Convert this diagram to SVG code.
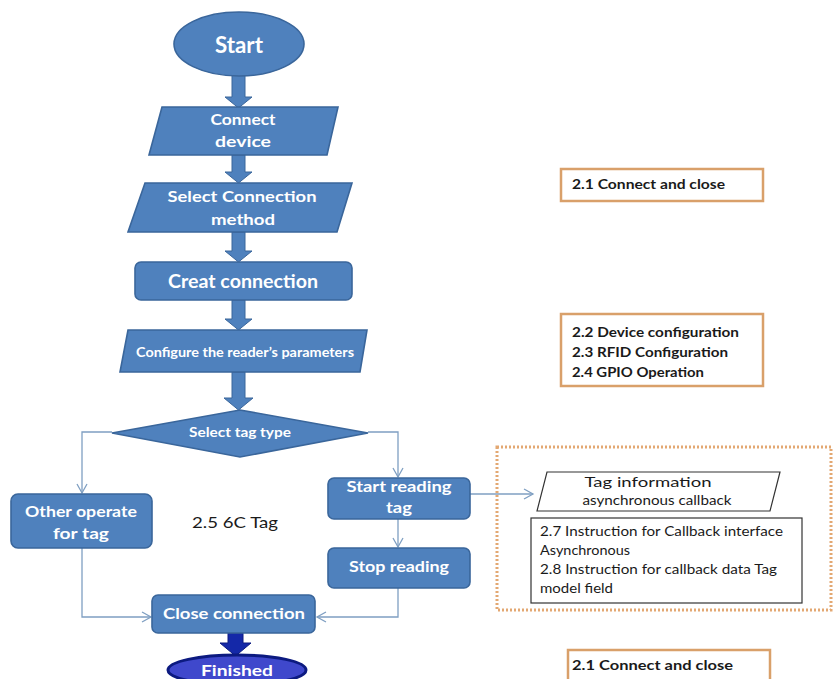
<svg xmlns="http://www.w3.org/2000/svg" width="833" height="679" viewBox="0 0 833 679">
<defs>
<style>
.node{fill:#4f81bd;stroke:#3a669b;stroke-width:1.6}
.wt{fill:#fff;font-family:"Lato","Liberation Sans",sans-serif;font-weight:bold;text-anchor:middle}
.blk{fill:#1a1a1a;font-family:"Lato","Liberation Sans",sans-serif}
.ref{fill:#fff;stroke:#d9a06a;stroke-width:2.5}
.con{fill:none;stroke:#7f9fc2;stroke-width:1.3}
.barrow{fill:#4f81bd;stroke:#3a669b;stroke-width:1}
</style>
<marker id="oa" markerWidth="12" markerHeight="12" refX="10" refY="6" orient="auto" markerUnits="userSpaceOnUse">
<path d="M1,1 L10,6 L1,11" fill="none" stroke="#7f9fc2" stroke-width="1.3"/>
</marker>
</defs>
<rect width="833" height="679" fill="#fff"/>

<g id="connectors">
<path class="barrow" d="M232,75 L245,75 L245,97 L252,97 L238.5,108 L225,97 L232,97 Z"/>
<path class="barrow" d="M232,155 L245,155 L245,172 L252,172 L238.5,183 L225,172 L232,172 Z"/>
<path class="barrow" d="M232,232 L245,232 L245,251 L252,251 L238.5,262 L225,251 L232,251 Z"/>
<path class="barrow" d="M232,300 L245,300 L245,319 L252,319 L238.5,330 L225,319 L232,319 Z"/>
<path class="barrow" d="M232,372 L245,372 L245,398 L253,398 L238.5,410 L224,398 L232,398 Z"/>
<path d="M228,633 L243,633 L243,643 L251,643 L235.5,656 L220,643 L228,643 Z" fill="#1428a8" stroke="#0c1a80" stroke-width="1"/>
<polyline class="con" points="112,432 82,432 82,493" marker-end="url(#oa)"/>
<polyline class="con" points="82,548 82,617 151,617" marker-end="url(#oa)"/>
<polyline class="con" points="368,432 398,432 398,477" marker-end="url(#oa)"/>
<polyline class="con" points="398,519 398,547" marker-end="url(#oa)"/>
<polyline class="con" points="398,588 398,617 317,617" marker-end="url(#oa)"/>
<polyline class="con" points="470,494 533,494" marker-end="url(#oa)"/>
</g>

<g id="start">
<ellipse class="node" cx="239" cy="44" rx="65" ry="32"/>
<text class="wt" x="239" y="53" font-size="22" textLength="48" lengthAdjust="spacingAndGlyphs">Start</text>
</g>

<g id="connect-device">
<polygon class="node" points="162,107 338,107 327,155 149,155"/>
<text class="wt" x="243" y="125" font-size="16" textLength="65" lengthAdjust="spacingAndGlyphs">Connect</text>
<text class="wt" x="243" y="147" font-size="16" textLength="56" lengthAdjust="spacingAndGlyphs">device</text>
</g>

<g id="select-connection">
<polygon class="node" points="145,183 352,183 337,232 128,232"/>
<text class="wt" x="242" y="202" font-size="16" textLength="149" lengthAdjust="spacingAndGlyphs">Select  Connection</text>
<text class="wt" x="243" y="225" font-size="16" textLength="64" lengthAdjust="spacingAndGlyphs">method</text>
</g>

<g id="creat-connection">
<rect class="node" x="135" y="262" width="217" height="38" rx="6"/>
<text class="wt" x="243" y="288" font-size="18" textLength="150" lengthAdjust="spacingAndGlyphs">Creat connection</text>
</g>

<g id="configure">
<polygon class="node" points="128,330 367,330 360,372 120,372"/>
<text class="wt" x="245" y="357" font-size="13" textLength="218" lengthAdjust="spacingAndGlyphs">Configure the reader’s parameters</text>
</g>

<g id="select-tag-type">
<polygon class="node" points="240,410 368,433 240,457 112,433"/>
<text class="wt" x="240" y="437" font-size="13" textLength="102" lengthAdjust="spacingAndGlyphs">Select tag type</text>
</g>

<g id="other-operate">
<rect class="node" x="11" y="494" width="141" height="54" rx="7"/>
<text class="wt" x="81" y="517" font-size="16" textLength="112" lengthAdjust="spacingAndGlyphs">Other operate</text>
<text class="wt" x="81" y="539" font-size="16" textLength="56" lengthAdjust="spacingAndGlyphs">for tag</text>
</g>

<g id="label-6c">
<text class="blk" x="192" y="528" font-size="16" textLength="86" lengthAdjust="spacingAndGlyphs">2.5  6C  Tag</text>
</g>

<g id="start-reading">
<rect class="node" x="328" y="478" width="142" height="41" rx="6"/>
<text class="wt" x="399" y="492" font-size="16" textLength="105" lengthAdjust="spacingAndGlyphs">Start reading</text>
<text class="wt" x="399" y="513" font-size="16" textLength="26" lengthAdjust="spacingAndGlyphs">tag</text>
</g>

<g id="stop-reading">
<rect class="node" x="328" y="548" width="142" height="40" rx="6"/>
<text class="wt" x="399" y="572" font-size="16" textLength="100" lengthAdjust="spacingAndGlyphs">Stop reading</text>
</g>

<g id="close-connection">
<rect class="node" x="152" y="595" width="163" height="38" rx="6"/>
<text class="wt" x="234" y="619" font-size="16" textLength="142" lengthAdjust="spacingAndGlyphs">Close connection</text>
</g>

<g id="finished">
<ellipse cx="237" cy="670" rx="69" ry="15" fill="#3f48cc" stroke="#0c1a80" stroke-width="3"/>
<text class="wt" x="237" y="676" font-size="15" textLength="72" lengthAdjust="spacingAndGlyphs">Finished</text>
</g>

<g id="ref-connect-close-top">
<rect class="ref" x="561" y="169" width="202" height="32"/>
<text class="blk" x="572" y="189" font-size="13" font-weight="bold" textLength="153" lengthAdjust="spacingAndGlyphs">2.1 Connect and  close</text>
</g>

<g id="ref-config">
<rect class="ref" x="561" y="314" width="202" height="72"/>
<text class="blk" x="572" y="337" font-size="13" font-weight="bold" textLength="167" lengthAdjust="spacingAndGlyphs">2.2 Device configuration</text>
<text class="blk" x="572" y="357" font-size="13" font-weight="bold" textLength="156" lengthAdjust="spacingAndGlyphs">2.3 RFID Configuration</text>
<text class="blk" x="572" y="377" font-size="13" font-weight="bold" textLength="132" lengthAdjust="spacingAndGlyphs">2.4 GPIO Operation</text>
</g>

<g id="callback-group">
<rect x="497" y="447" width="334" height="163" fill="none" stroke="#e3a872" stroke-width="3" stroke-dasharray="2,2"/>
</g>

<g id="tag-info">
<polygon points="547,472 780,472 770,511 537,511" fill="#fff" stroke="#333" stroke-width="1.2"/>
<text class="blk" x="648" y="487" font-size="13" text-anchor="middle" textLength="127" lengthAdjust="spacingAndGlyphs">Tag information</text>
<text class="blk" x="657" y="505" font-size="13" text-anchor="middle" textLength="149" lengthAdjust="spacingAndGlyphs">asynchronous callback</text>
</g>

<g id="callback-notes">
<rect x="531" y="518" width="271" height="85" fill="#fff" stroke="#333" stroke-width="1.2"/>
<text class="blk" x="540" y="536" font-size="14" textLength="243" lengthAdjust="spacingAndGlyphs">2.7 Instruction for Callback interface</text>
<text class="blk" x="540" y="555" font-size="14" textLength="90" lengthAdjust="spacingAndGlyphs">Asynchronous</text>
<text class="blk" x="540" y="574" font-size="14" textLength="237" lengthAdjust="spacingAndGlyphs">2.8 Instruction  for callback data Tag</text>
<text class="blk" x="540" y="593" font-size="14" textLength="73" lengthAdjust="spacingAndGlyphs">model field</text>
</g>

<g id="ref-connect-close-bottom">
<rect class="ref" x="568" y="650" width="202" height="34"/>
<text class="blk" x="572" y="670" font-size="13" font-weight="bold" textLength="161" lengthAdjust="spacingAndGlyphs">2.1 Connect and  close</text>
</g>
</svg>
